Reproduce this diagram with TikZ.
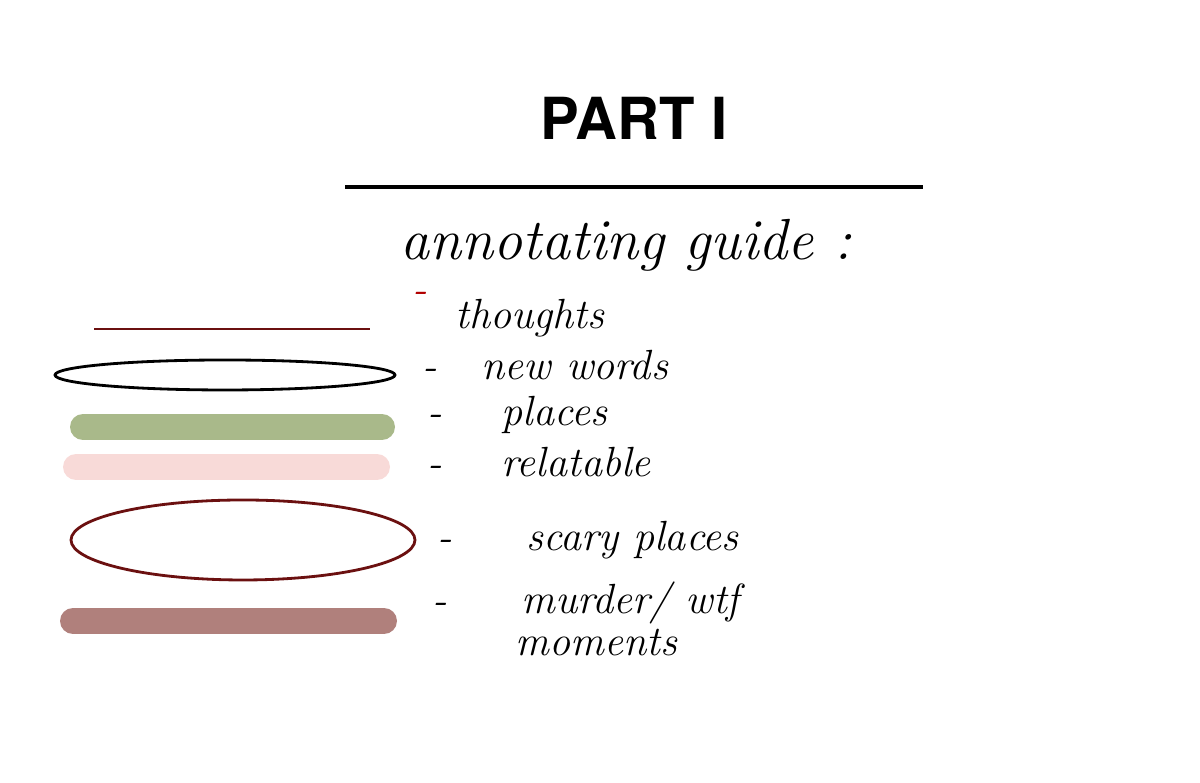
\documentclass[tikz,border=0pt]{standalone}
\usepackage{fontspec}
\setsansfont{TeX Gyre Heros}
\definecolor{leafgreen}{HTML}{A9B98A}
\definecolor{blush}{HTML}{F8DAD8}
\definecolor{mauve}{HTML}{B0807C}
\definecolor{oxblood}{HTML}{6B1010}
\tikzset{
  hand/.style={font=\itshape\fontsize{12}{14}\selectfont, anchor=west, inner sep=0pt},
  bar/.style={line width=0.26cm, line cap=round},
}
\begin{document}
\begin{tikzpicture}
\useasboundingbox (0,0) rectangle (12,7.83);
\node (title) at (6.34,6.65) {\sffamily\bfseries\fontsize{16.5}{20}\selectfont PART I};
\draw [line width=1.1pt] (3.45,5.96)--(9.23,5.96);
\node [hand, font=\itshape\fontsize{16.5}{20}\selectfont] (guide) at (4.0,5.38) {annotating guide :};
% left samples
\draw [oxblood, line width=0.7pt] (0.94,4.54)--(3.70,4.54);
\draw [line width=0.8pt] (2.25,4.08) ellipse (1.70 and 0.15);
\draw [bar, leafgreen] (0.83,3.56)--(3.82,3.56);
\draw [bar, blush] (0.76,3.16)--(3.77,3.16);
\draw [oxblood, line width=0.8pt] (2.43,2.43) ellipse (1.72 and 0.40);
\draw [bar, mauve] (0.73,1.62)--(3.84,1.62);
% labels
\node [hand, text=red!70!black] (d1) at (4.12,4.86) {-};
\node [hand] (l1) at (4.55,4.65) {thoughts};
\node [hand] (l2) at (4.22,4.18) {- \ \ new words};
\node [hand] (l3) at (4.27,3.68) {- \ \ \ places};
\node [hand] (l4) at (4.27,3.21) {- \ \ \ relatable};
\node [hand] (l5) at (4.37,2.43) {- \ \ \ \ scary places};
\node [hand] (l6) at (4.32,1.80) {- \ \ \ \ murder/ wtf};
\node [hand] (l7) at (5.15,1.40) {moments};
\end{tikzpicture}
\end{document}
